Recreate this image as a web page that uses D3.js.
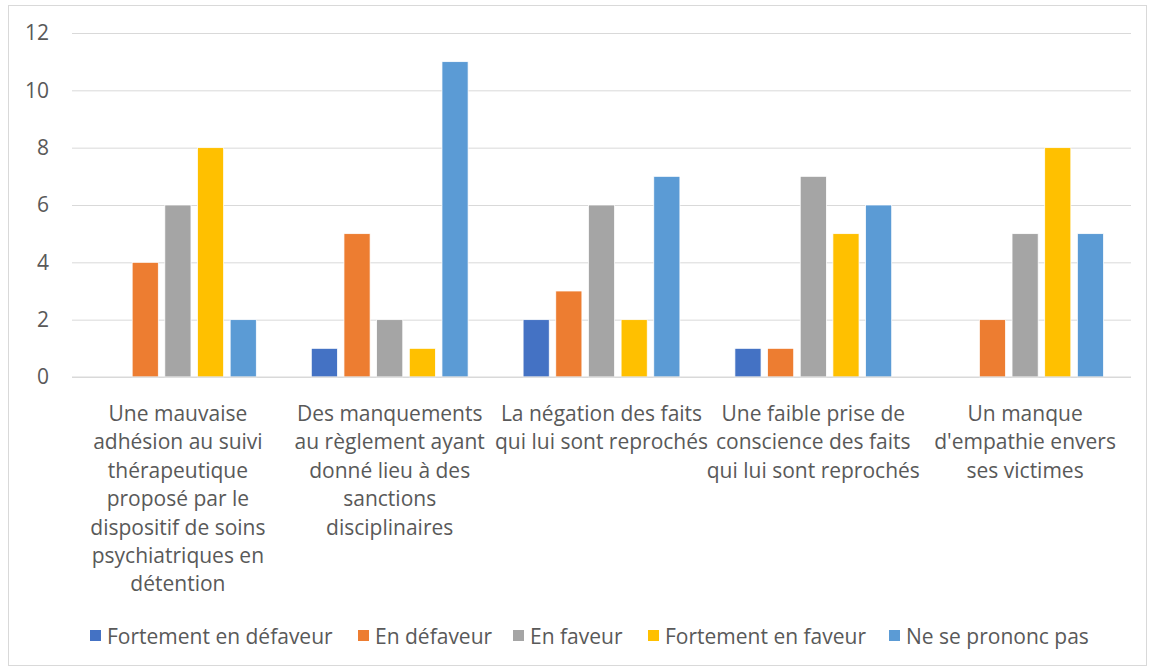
<!DOCTYPE html>
<html>
<head>
<meta charset="utf-8">
<script src="https://cdn.jsdelivr.net/npm/d3@7"></script>
<style>
  body { margin: 0; background: #fff; }
  text { font-family: "Open Sans", sans-serif; fill: #595959; }
</style>
</head>
<body>
<script>
// data
const categories = ['c1', 'c2', 'c3', 'c4', 'c5'];
const catLabels = [
  ['Une mauvaise', 'adhésion au suivi', 'thérapeutique', 'proposé par le', 'dispositif de soins', 'psychiatriques en', 'détention'],
  ['Des manquements', 'au règlement ayant', 'donné lieu à des', 'sanctions', 'disciplinaires'],
  ['La négation des faits', 'qui lui sont reprochés'],
  ['Une faible prise de', 'conscience des faits', 'qui lui sont reprochés'],
  ['Un manque', "d'empathie envers", 'ses victimes'],
];
const seriesNames = ['Fortement en défaveur', 'En défaveur', 'En faveur', 'Fortement en faveur', 'Ne se prononc pas'];
const fortementDefaveur = [0, 1, 2, 1, 0];
const enDefaveur = [4, 5, 3, 1, 2];
const enFaveur = [6, 2, 6, 7, 5];
const fortementFaveur = [8, 1, 2, 5, 8];
const neSePrononce = [2, 11, 7, 6, 5];
const yTicks = [0, 2, 4, 6, 8, 10, 12];

const seriesValues = [fortementDefaveur, enDefaveur, enFaveur, fortementFaveur, neSePrononce];
const colors = ['#4472C4', '#ED7D31', '#A5A5A5', '#FFC000', '#5B9BD5'];

const W = 1152, H = 670;
const margin = { top: 33, right: 21, bottom: 293, left: 72 };
const width = W - margin.left - margin.right;
const height = H - margin.top - margin.bottom;

const svg = d3.select('body').append('svg')
  .attr('width', W)
  .attr('height', H);

// outer border
svg.append('rect')
  .attr('x', 8.5).attr('y', 5.5)
  .attr('width', W - 14).attr('height', H - 10)
  .attr('fill', 'none')
  .attr('stroke', '#d9d9d9');

const g = svg.append('g')
  .attr('transform', `translate(${margin.left},${margin.top})`);

const x0 = d3.scaleBand().domain(categories).range([0, width]).padding(0);
const x1 = d3.scaleBand().domain(d3.range(seriesNames.length))
  .range([x0.bandwidth() / 2 - 78.4, x0.bandwidth() / 2 + 78.4])
  .paddingInner(0.2).paddingOuter(0);
const y = d3.scaleLinear().domain([0, 12]).range([height, 0]);

// gridlines + y labels
const yAxis = g.append('g')
  .call(d3.axisLeft(y).tickValues(yTicks).tickSize(-width).tickPadding(23));
yAxis.select('.domain').remove();
yAxis.selectAll('.tick line').attr('stroke', '#d9d9d9');
yAxis.selectAll('.tick text')
  .style('font-size', '21px')
  .style('font-family', '"Open Sans", sans-serif')
  .attr('fill', '#595959');

// bars
categories.forEach((c, ci) => {
  const grp = g.append('g').attr('transform', `translate(${x0(c)},0)`);
  seriesValues.forEach((vals, si) => {
    if (vals[ci] === 0) return;
    grp.append('rect')
      .attr('x', x1(si))
      .attr('y', y(vals[ci]))
      .attr('width', x1.bandwidth())
      .attr('height', y(0) - y(vals[ci]))
      .attr('fill', colors[si])
      .attr('stroke', '#fff')
      .attr('stroke-width', 0.75);
  });
});

// baseline
g.append('line')
  .attr('x1', 0).attr('x2', width)
  .attr('y1', y(0)).attr('y2', y(0))
  .attr('stroke', '#d9d9d9');

// category labels
categories.forEach((c, ci) => {
  const t = g.append('text')
    .attr('text-anchor', 'middle')
    .attr('x', x0(c) + x0.bandwidth() / 2)
    .attr('y', height + 44)
    .style('font-size', '21px');
  catLabels[ci].forEach((line, li) => {
    t.append('tspan')
      .attr('x', x0(c) + x0.bandwidth() / 2)
      .attr('dy', li === 0 ? 0 : 28.4)
      .text(line);
  });
});

// legend
const legendX = [90, 358, 513, 648, 889];
const legend = svg.append('g').attr('transform', 'translate(0,636)');
seriesNames.forEach((name, i) => {
  legend.append('rect')
    .attr('x', legendX[i]).attr('y', -6)
    .attr('width', 11).attr('height', 11)
    .attr('fill', colors[i]);
  legend.append('text')
    .attr('x', legendX[i] + 17)
    .attr('y', 8)
    .style('font-size', '21px')
    .text(name);
});
</script>
</body>
</html>
